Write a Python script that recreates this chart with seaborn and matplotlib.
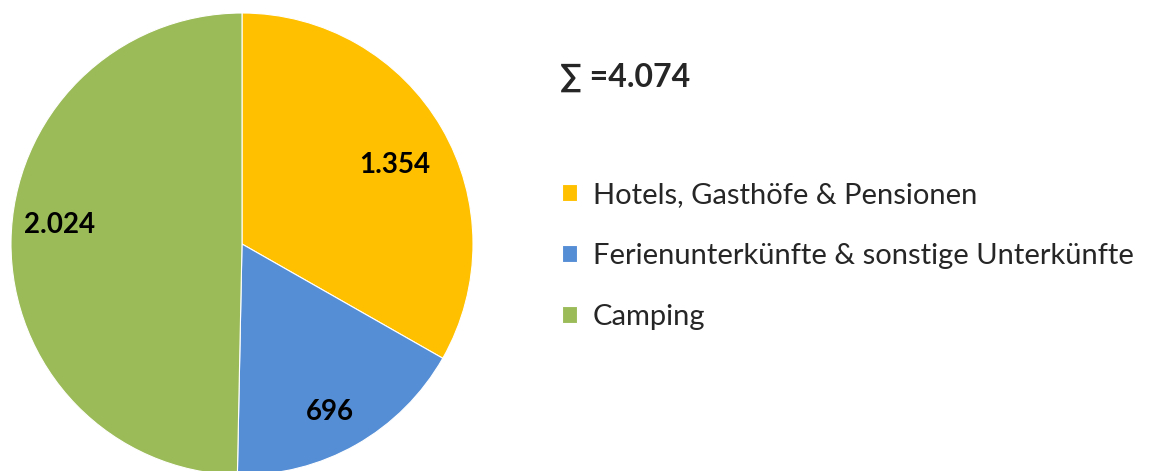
import matplotlib.pyplot as plt
import seaborn as sns

categories = ["Hotels, Gasthöfe & Pensionen",
              "Ferienunterkünfte & sonstige Unterkünfte",
              "Camping"]
values = [1354, 696, 2024]
colors = ["#FFC000", "#558ED5", "#9BBB59"]

sns.set_theme(style="white")
plt.rcParams["font.family"] = ["Lato", "DejaVu Sans"]


def fmt_de(n):
    # German thousands separator
    return f"{n:,}".replace(",", ".")


total = sum(values)
palette = sns.color_palette(colors)

fig = plt.figure(figsize=(11.71, 4.71), dpi=100)
ax = fig.add_axes([11 / 1171, -4 / 471, 462 / 1171, 462 / 471])

wedges, _, autotexts = ax.pie(
    values, colors=palette, startangle=90, counterclock=False,
    autopct=lambda p: fmt_de(round(p * total / 100)), pctdistance=0.78,
    wedgeprops=dict(linewidth=0.8, edgecolor="white"),
    textprops=dict(fontsize=20, fontweight="bold", color="black"),
)
# label placement like the original (Excel "best fit")
label_pos = [(0.662, 0.34), (0.381, -0.727), (-0.788, 0.082)]
for t, pos in zip(autotexts, label_pos):
    t.set_position(pos)

ax.set_xlim(-1, 1)
ax.set_ylim(-1, 1)
ax.axis("off")

fig.text(560 / 1171, 1 - 77 / 471, "∑ =" + fmt_de(total), fontsize=23,
         fontweight="bold", va="center", ha="left")

fig.legend(wedges, categories, loc="upper left",
           bbox_to_anchor=(562 / 1171, 1 - 182 / 471), frameon=False,
           fontsize=21, handlelength=0.5, handleheight=0.5,
           handletextpad=0.55, labelspacing=1.2,
           borderpad=0, borderaxespad=0)

fig.savefig("out.png", dpi=100)
